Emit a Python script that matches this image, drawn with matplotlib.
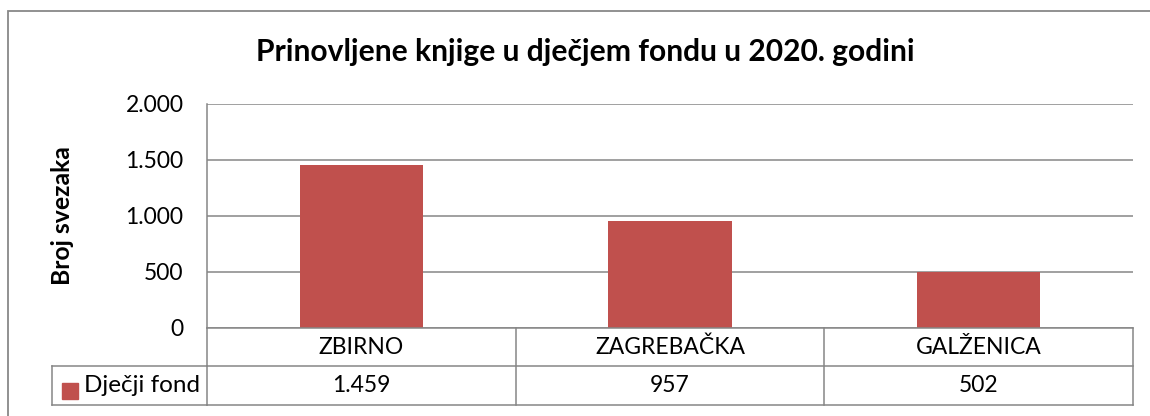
import matplotlib
matplotlib.use("Agg")
import matplotlib.pyplot as plt
import matplotlib.transforms as mtransforms
from matplotlib.patches import Rectangle

categories = ["ZBIRNO", "ZAGREBAČKA", "GALŽENICA"]
values = [1459, 957, 502]
value_labels = ["1.459", "957", "502"]
series_name = "Dječji fond"
yticks = [0, 500, 1000, 1500, 2000]
ytick_labels = ["0", "500", "1.000", "1.500", "2.000"]
title = "Prinovljene knjige u dječjem fondu u 2020. godini"
ylabel = "Broj svezaka"

BAR = "#C0504D"
GRID = "#868686"
FONT = "Lato"
plt.rcParams["font.family"] = [FONT, "DejaVu Sans"]

W, H = 1150, 416
fig = plt.figure(figsize=(W / 100, H / 100), dpi=100)

def fx(px):
    return px / W

def fy(py):
    return 1 - py / H

# outer chart border
fig.patches.append(Rectangle((fx(8), fy(430)), fx(1170) - fx(8), fy(11) - fy(430),
                             transform=fig.transFigure, fill=False,
                             edgecolor="#888888", linewidth=1.3))

left, right, top, bottom = 207, 1133, 104, 328
ax = fig.add_axes([fx(left), fy(bottom), fx(right) - fx(left), fy(top) - fy(bottom)])

x = list(range(len(categories)))
ax.bar(x, values, width=0.4, color=BAR, zorder=3)
ax.set_xlim(-0.5, len(categories) - 0.5)
ax.set_ylim(0, 2000)
ax.set_yticks(yticks)
ax.set_yticklabels(ytick_labels, fontsize=16.5)
ax.set_xticks([])
ax.tick_params(axis="y", length=0, pad=17)
ax.grid(axis="y", color=GRID, linewidth=1.1, zorder=0)
for s in ["top", "right", "bottom"]:
    ax.spines[s].set_visible(False)
ax.spines["left"].set_color(GRID)
ax.spines["left"].set_linewidth(1.1)

ax_h = bottom - top
ax_w = right - left
r1 = -38 / ax_h
r2 = -77 / ax_h
leg_left = (52 - left) / ax_w

blend = mtransforms.blended_transform_factory(ax.transData, ax.transAxes)
xmin, xmax = -0.5, len(categories) - 0.5
lkw = dict(color=GRID, linewidth=1.1, clip_on=False, zorder=4)

# horizontal table lines
ax.plot([xmin, xmax], [0, 0], transform=blend, **lkw)
ax.plot([xmin, xmax], [r1, r1], transform=blend, **lkw)
ax.plot([xmin, xmax], [r2, r2], transform=blend, **lkw)
ax.plot([leg_left, 0], [r1, r1], transform=ax.transAxes, **lkw)
ax.plot([leg_left, 0], [r2, r2], transform=ax.transAxes, **lkw)
# vertical table lines
for b in [xmin + i for i in range(len(categories) + 1)]:
    ax.plot([b, b], [0, r2], transform=blend, **lkw)
ax.plot([leg_left, leg_left], [r1, r2], transform=ax.transAxes, **lkw)

for xi, c, v in zip(x, categories, value_labels):
    ax.text(xi, r1 / 2, c, transform=blend, ha="center", va="center", fontsize=16.5)
    ax.text(xi, (r1 + r2) / 2, v, transform=blend, ha="center", va="center", fontsize=16.5)

# legend key inside the table
sq = 16
ax.add_patch(Rectangle(((62 - left) / ax_w, (-(399 - bottom)) / ax_h), sq / ax_w, sq / ax_h,
                       transform=ax.transAxes, color=BAR, clip_on=False))
ax.text((84 - left) / ax_w, (r1 + r2) / 2, series_name, transform=ax.transAxes,
        ha="left", va="center", fontsize=17.5)

fig.text(fx(585), fy(52), title, ha="center", va="center", fontsize=21.6, fontweight="bold")
fig.text(fx(62), fy(216), ylabel, ha="center", va="center", rotation=90,
         fontsize=17.8, fontweight="bold")

fig.savefig("out.png", dpi=100)
